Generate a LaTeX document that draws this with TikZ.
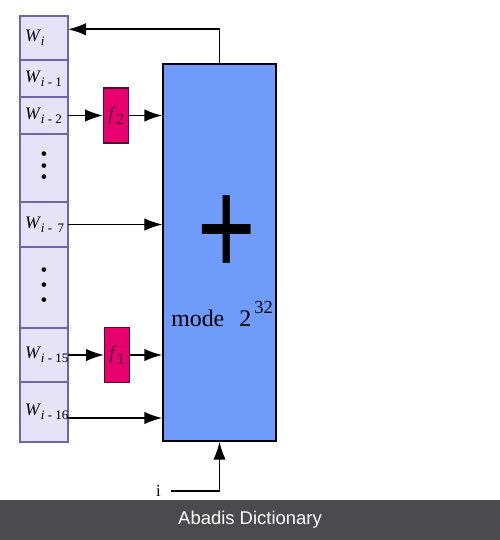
\documentclass[tikz,border=0pt]{standalone}
\usepackage{fontspec}
\setmainfont{Liberation Serif}
\newfontfamily\bannerfont{Liberation Sans}
\usetikzlibrary{positioning, arrows.meta, calc}

\definecolor{cellfill}{HTML}{E6E3F8}
\definecolor{celldraw}{HTML}{6F62AE}
\definecolor{funcfill}{HTML}{E8006F}
\definecolor{funcdraw}{HTML}{4A1030}
\definecolor{modfill}{HTML}{6F9CFA}
\definecolor{bannerfill}{HTML}{4B4B4D}

% register label: W with subscript index, in a fixed-width box
\newcommand{\wlabel}[1]{\makebox[0.96cm][l]{\hspace{0.1cm}\fontsize{10}{11}\selectfont\textit{W}\raisebox{-0.5ex}{\fontsize{7.4}{9}\selectfont #1}}}

\begin{document}
\begin{tikzpicture}[
    font=\fontsize{9.5}{10}\selectfont,
    >=Latex,
    node distance=0pt,
    cellblock/.style={
        draw=celldraw,
        fill=cellfill,
        line width=0.8pt,
        outer sep=0pt,
        minimum width=0.96cm,
        inner sep=0pt,
        align=center
    },
    funcblock/.style={
        draw=funcdraw,
        fill=funcfill,
        line width=0.8pt,
        minimum width=0.5cm,
        minimum height=1.1cm,
        inner sep=0pt,
        text=funcdraw,
        font=\fontsize{11}{12}\selectfont
    },
    modblock/.style={
        draw=black,
        fill=modfill,
        line width=0.8pt,
        minimum width=2.26cm,
        minimum height=7.54cm
    },
    mainarrow/.style={-{Latex[length=0.36cm,width=0.25cm]}, line width=1pt}
]
\useasboundingbox (0,0) rectangle (10,-10.8);
% ============================================================
% REGISTER COLUMN -- stacked cells
% ============================================================
\node[cellblock, anchor=north west, minimum height=0.88cm] (wi) at (0.4,-0.32)
    {\wlabel{\textit{i}}};
\node[cellblock, below=of wi, minimum height=0.74cm] (w1)
    {\wlabel{\textit{i} - 1}};
\node[cellblock, below=of w1, minimum height=0.74cm] (w2)
    {\wlabel{\textit{i} - 2}};
\node[cellblock, below=of w2, minimum height=1.36cm,
      font=\fontsize{11}{6.5}\selectfont] (dotsa)
    {\textbullet\\\textbullet\\\textbullet};
\node[cellblock, below=of dotsa, minimum height=0.90cm] (w7)
    {\wlabel{\textit{i} -\, 7}};
\node[cellblock, below=of w7, minimum height=1.62cm,
      font=\fontsize{11}{8.5}\selectfont] (dotsb)
    {\textbullet\\\textbullet\\\textbullet};
\node[cellblock, below=of dotsb, minimum height=1.08cm] (w15)
    {\wlabel{\textit{i} - 15}};
\node[cellblock, below=of w15, minimum height=1.20cm] (w16)
    {\wlabel{\textit{i} - 16}};
% ============================================================
% FUNCTION BLOCKS AND ADDER
% ============================================================
\node[funcblock, right=0.7cm of w2] (f2) {\textit{f}\raisebox{-0.5ex}{\fontsize{9}{9}\selectfont 2}};
\node[funcblock, right=0.72cm of w15] (f1) {\textit{f}\raisebox{-0.5ex}{\fontsize{9}{9}\selectfont 1}};
\node[modblock] (mod) at (4.39,-5.05) {};
\node[font=\fontsize{75}{75}\selectfont\bannerfont, xscale=0.76, yscale=1.05] (plus) at (4.54,-4.72) {+};
\node[font=\fontsize{13.6}{14}\selectfont] (modtext) at (4.44,-6.28)
    {mode\hspace{0.3cm}2\raisebox{1.1ex}{\fontsize{10.5}{10}\selectfont\hspace{0.06cm}32}};
% ============================================================
% CONNECTORS
% ============================================================
\draw[mainarrow] (w2.east) -- (f2.west);
\draw[mainarrow] (f2.east) -- (f2.east -| mod.west);
\draw[mainarrow, line width=0.7pt] (w7.east) -- (w7.east -| mod.west);
\draw[mainarrow] (w15.east) -- (f1.west);
\draw[mainarrow] (f1.east) -- (f1.east -| mod.west);
\draw[mainarrow] ([yshift=-0.12cm]w16.east) -- ([yshift=-0.12cm]w16.east -| mod.west);
% feedback to W_i
\coordinate (fbtop) at ($(mod.north)+(0,0.68)$);
\draw[mainarrow] (mod.north) -- (fbtop) -- (fbtop -| wi.east);
% input i
\node[inner sep=0pt] (iin) at (3.17,-9.82) {i};
\draw[mainarrow] ([xshift=0.2cm]iin.east) -| (mod.south);
% ============================================================
% BANNER
% ============================================================
\fill[bannerfill] (0,-10.0) rectangle (10,-10.8);
\node[text=white, font=\bannerfont\fontsize{10.5}{11}\selectfont] (banner) at (5,-10.4)
    {Abadis Dictionary};
\end{tikzpicture}
\end{document}
